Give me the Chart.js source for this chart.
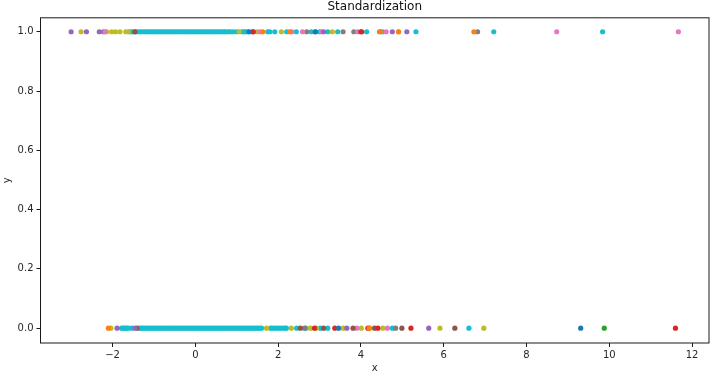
<!DOCTYPE html>
<html><head><meta charset="utf-8">
<style>html,body{margin:0;padding:0;background:#fff}#w{width:713px;height:374px}</style>
<script src="https://cdn.jsdelivr.net/npm/chart.js@4"></script></head>
<body><div id="w"><canvas id="c" width="713" height="374"></canvas></div>
<script>
const xTicks=[-2,0,2,4,6,8,10,12];
const yTicks=[0,0.2,0.4,0.6,0.8,1];
const seriesNames=["blue","orange","green","red","purple","brown","pink","gray","olive","cyan"];
const seriesColors=["#1f77b4","#ff7f0e","#2ca02c","#d62728","#9467bd","#8c564b","#e377c2","#7f7f7f","#bcbd22","#17becf"];
// x values of points with y = 1
const one_blue=[1.30,2.90];
const one_orange=[1.63,2.28,4.47,4.91,6.73];
const one_green=[];
const one_red=[1.40,4.00];
const one_purple=[-3.00,-2.63,-2.32,2.90,3.10,4.76,5.11];
const one_brown=[-1.46,1.38,4.02];
const one_pink=[-2.18,1.56,2.33,2.59,3.05,3.92,4.61,8.73,11.67];
const one_gray=[-2.22,2.69,3.57,3.83,6.82];
const one_olive=[-2.76,-2.14,-2.02,-1.93,-1.82,-1.68,-1.62,1.06,1.48,2.08,3.31,4.91];
const one_cyan=[-1.58,-1.53,-1.47,-1.42,-1.36,-1.31,-1.25,-1.2,-1.15,-1.1,-1.05,-1,-0.95,-0.9,-0.85,-0.8,-0.75,-0.7,-0.65,-0.6,-0.55,-0.5,-0.45,-0.4,-0.35,-0.3,-0.25,-0.2,-0.15,-0.1,-0.05,0,0.05,0.1,0.15,0.2,0.25,0.3,0.35,0.4,0.45,0.5,0.55,0.6,0.65,0.7,0.74,0.8,0.85,0.92,1.0,1.13,1.18,1.21,1.27,1.75,1.8,1.92,2.21,2.44,2.80,3.0,3.20,3.44,4.14,4.45,4.52,5.33,7.21,9.84];
// x values of points with y = 0
const zero_blue=[3.46,9.31];
const zero_orange=[-2.10,4.2];
const zero_green=[9.88];
const zero_red=[2.88,3.37,4.17,4.41,5.21,11.60];
const zero_purple=[-1.89,-1.46,3.66,5.64];
const zero_brown=[-1.41,2.54,3.10,3.81,4.33,4.99,6.27];
const zero_pink=[3.90,4.64];
const zero_gray=[2.64,4.84];
const zero_olive=[-2.04,1.72,2.32,2.78,2.92,3.57,4.01,4.21,4.53,5.91,6.97];
const zero_cyan=[-1.78,-1.74,-1.7,-1.66,-1.62,-1.54,-1.34,-1.3,-1.25,-1.2,-1.15,-1.1,-1.05,-1,-0.95,-0.9,-0.85,-0.8,-0.75,-0.7,-0.65,-0.6,-0.55,-0.5,-0.45,-0.4,-0.35,-0.3,-0.25,-0.2,-0.15,-0.1,-0.05,0,0.05,0.1,0.15,0.2,0.25,0.3,0.35,0.4,0.45,0.5,0.55,0.6,0.65,0.7,0.75,0.8,0.85,0.9,0.95,1,1.05,1.1,1.15,1.2,1.25,1.3,1.35,1.4,1.45,1.5,1.55,1.6,1.82,1.86,1.92,1.98,2.04,2.1,2.16,2.2,2.45,2.67,3.02,3.20,4.76,6.61];
const ones=[one_blue,one_orange,one_green,one_red,one_purple,one_brown,one_pink,one_gray,one_olive,one_cyan];
const zeros=[zero_blue,zero_orange,zero_green,zero_red,zero_purple,zero_brown,zero_pink,zero_gray,zero_olive,zero_cyan];
const datasets=seriesNames.map((n,i)=>({label:n,
  data:[...zeros[i].map(x=>({x,y:0})),...ones[i].map(x=>({x,y:1}))],
  pointBackgroundColor:seriesColors[i],pointBorderWidth:0,pointRadius:2.6,showLine:false}));
const frame={id:'frame',afterDraw(ch){const a=ch.chartArea,g=ch.ctx;g.save();g.strokeStyle='#1a1a1a';g.lineWidth=1;
  g.strokeRect(a.left,a.top,a.right-a.left,a.bottom-a.top);g.restore();}};
const txt='#262626';
new Chart(document.getElementById('c'),{type:'scatter',data:{datasets},plugins:[frame],options:{
  responsive:false,animation:false,
  layout:{padding:{top:0,right:2,bottom:0,left:1}},
  plugins:{legend:{display:false},tooltip:{enabled:false},
    title:{display:true,text:'Standardization',fullSize:false,color:'#111',font:{family:'DejaVu Sans',size:12,weight:'normal'},padding:{top:0,bottom:3.4}}},
  scales:{
    x:{type:'linear',min:-3.74,max:12.41,
      afterBuildTicks(s){s.ticks=xTicks.map(value=>({value}));},
      afterFit(s){s.height=31;},
      grid:{drawOnChartArea:false,drawTicks:true,tickLength:4,tickColor:'#1a1a1a',tickWidth:1},border:{display:false},
      ticks:{autoSkip:false,maxRotation:0,padding:2,color:txt,font:{family:'DejaVu Sans',size:10},callback:v=>String(v).replace('-','\u2212')},
      title:{display:true,text:'x',color:txt,font:{family:'DejaVu Sans',size:10},padding:{top:0,bottom:0}}},
    y:{type:'linear',min:-0.05,max:1.047,
      afterBuildTicks(s){s.ticks=yTicks.map(value=>({value}));},
      afterFit(s){s.width=39.5;},
      grid:{drawOnChartArea:false,drawTicks:true,tickLength:4,tickColor:'#1a1a1a',tickWidth:1},border:{display:false},
      ticks:{autoSkip:false,padding:3,color:txt,font:{family:'DejaVu Sans',size:10},callback:v=>Number(v).toFixed(1)},
      title:{display:true,text:'y',color:txt,font:{family:'DejaVu Sans',size:10},padding:{top:0,bottom:0}}}
  }}});
</script></body></html>
